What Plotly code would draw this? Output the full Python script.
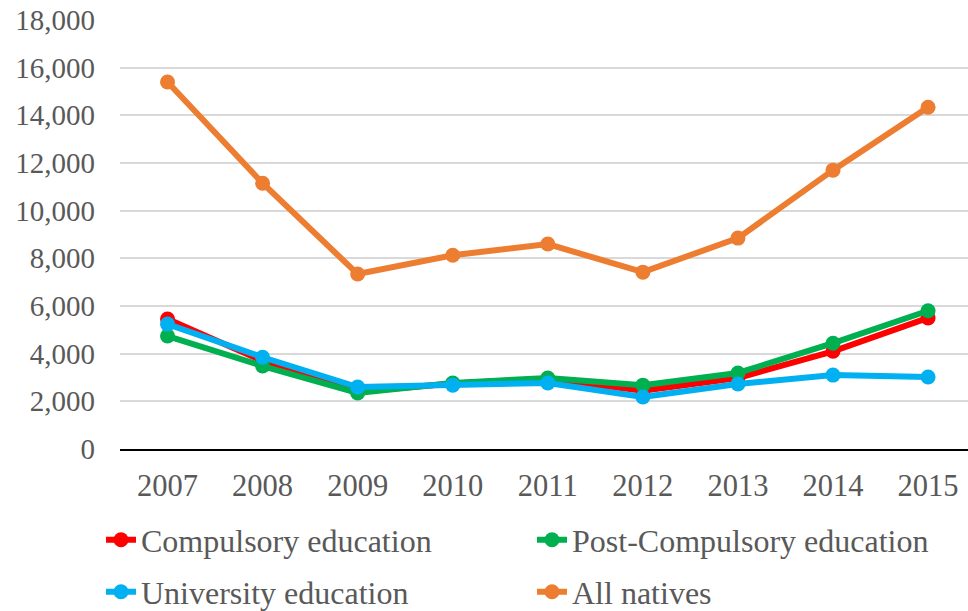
import plotly.graph_objects as go

years = ["2007", "2008", "2009", "2010", "2011", "2012", "2013", "2014", "2015"]
compulsory = [5450, 3700, 2400, 2750, 2950, 2450, 2980, 4100, 5500]
post_compulsory = [4740, 3480, 2350, 2770, 2980, 2680, 3190, 4440, 5800]
university = [5240, 3850, 2600, 2680, 2770, 2180, 2730, 3100, 3020]
all_natives = [15400, 11150, 7340, 8130, 8600, 7420, 8850, 11700, 14340]

series = [
    ("Compulsory education", compulsory, "#FF0000", "legend", 101, 540),
    ("Post-Compulsory education", post_compulsory, "#00B050", "legend2", 532, 540),
    ("University education", university, "#00B0F0", "legend3", 101, 592),
    ("All natives", all_natives, "#ED7D31", "legend4", 532, 592),
]

font_family = "Liberation Serif, Times New Roman, serif"

fig = go.Figure()
legends = {}
for name, vals, color, lg, lx, ly in series:
    fig.add_trace(go.Scatter(
        x=list(range(len(years))), y=vals, name=name, mode="lines+markers",
        line=dict(color=color, width=6),
        marker=dict(color=color, size=15),
        legend=lg,
    ))
    legends[lg] = dict(
        orientation="h", xref="container", yref="container",
        x=lx / 968, y=1 - ly / 611, xanchor="left", yanchor="middle",
        font=dict(family=font_family, size=32, color="#595959"),
        bgcolor="rgba(0,0,0,0)",
    )

fig.update_layout(
    width=968, height=611,
    margin=dict(l=120, r=0, t=20, b=162, autoexpand=False),
    plot_bgcolor="white", paper_bgcolor="white",
    font=dict(family=font_family, size=29, color="#595959"),
    showlegend=True,
    xaxis=dict(
        tickmode="array", tickvals=list(range(len(years))), ticktext=years,
        range=[-0.5, 8.42], showgrid=False, showline=True, linecolor="black",
        linewidth=1.5, ticks="", ticklabelstandoff=9, zeroline=False,
        tickfont=dict(size=30.5),
    ),
    yaxis=dict(
        range=[0, 18000], dtick=2000, tickformat=",d", showgrid=True,
        gridcolor="#D9D9D9", gridwidth=1.5, zeroline=False, showline=False,
        ticks="", ticklabelstandoff=24,
    ),
    **legends,
)

fig.write_html("out.html")
